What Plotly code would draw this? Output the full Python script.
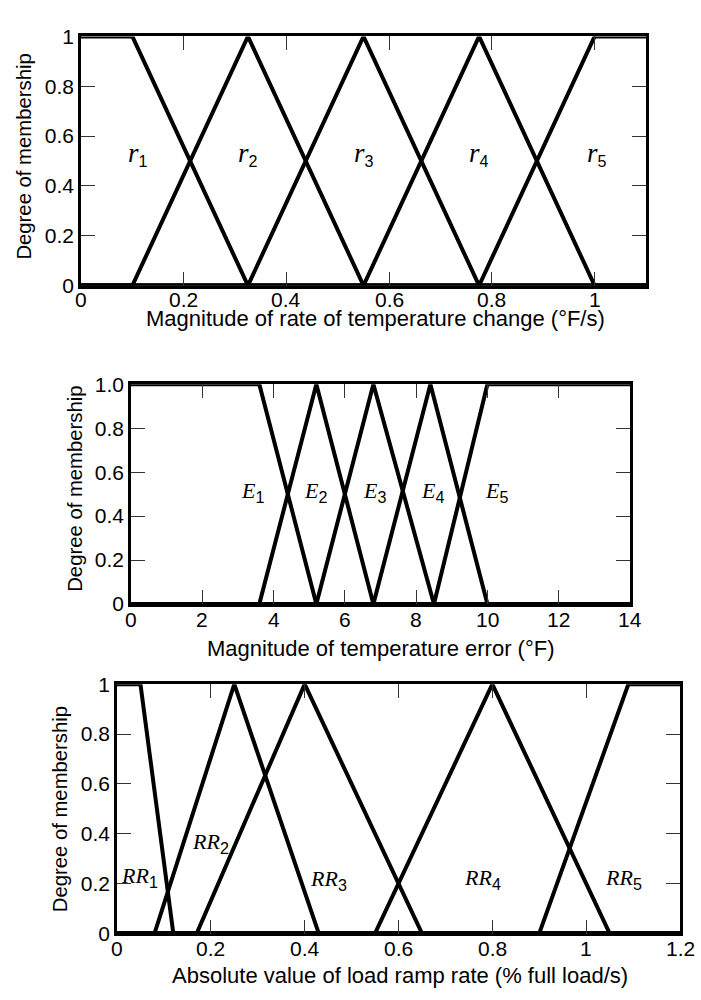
import plotly.graph_objects as go

W, H = 701, 1000

# ---------------- data ----------------
# Panel 1: magnitude of rate of temperature change (°F/s)
r_names = ["1", "2", "3", "4", "5"]
r1_x = [0, 0.1, 0.325, 1.1];          r1_y = [1, 1, 0, 0]
r2_x = [0, 0.1, 0.325, 0.55, 1.1];    r2_y = [0, 0, 1, 0, 0]
r3_x = [0, 0.325, 0.55, 0.775, 1.1];  r3_y = [0, 0, 1, 0, 0]
r4_x = [0, 0.55, 0.775, 1.0, 1.1];    r4_y = [0, 0, 1, 0, 0]
r5_x = [0, 0.775, 1.0, 1.1];          r5_y = [0, 0, 1, 1]
r_label_x = [0.11, 0.325, 0.55, 0.775, 1.005]
r_label_y = [0.53, 0.53, 0.53, 0.53, 0.53]
r_xticks = [0, 0.2, 0.4, 0.6, 0.8, 1]
r_xticktext = ["0", "0.2", "0.4", "0.6", "0.8", "1"]
r_yticks = [0, 0.2, 0.4, 0.6, 0.8, 1]
r_yticktext = ["0", "0.2", "0.4", "0.6", "0.8", "1"]

# Panel 2: magnitude of temperature error (°F)
e1_x = [0, 3.6, 5.2, 14];        e1_y = [1, 1, 0, 0]
e2_x = [0, 3.6, 5.2, 6.8, 14];   e2_y = [0, 0, 1, 0, 0]
e3_x = [0, 5.2, 6.8, 8.5, 14];   e3_y = [0, 0, 1, 0, 0]
e4_x = [0, 6.8, 8.4, 10.0, 14];  e4_y = [0, 0, 1, 0, 0]
e5_x = [0, 8.5, 10.0, 14];       e5_y = [0, 0, 1, 1]
e_label_x = [3.42, 5.19, 6.82, 8.45, 10.26]
e_label_y = [0.51, 0.51, 0.51, 0.51, 0.51]
e_xticks = [0, 2, 4, 6, 8, 10, 12, 14]
e_xticktext = ["0", "2", "4", "6", "8", "10", "12", "14"]
e_yticks = [0, 0.2, 0.4, 0.6, 0.8, 1.0]
e_yticktext = ["0", "0.2", "0.4", "0.6", "0.8", "1.0"]

# Panel 3: absolute value of load ramp rate (% full load/s)
rr1_x = [0, 0.05, 0.12, 1.2];         rr1_y = [1, 1, 0, 0]
rr2_x = [0, 0.08, 0.25, 0.43, 1.2];   rr2_y = [0, 0, 1, 0, 0]
rr3_x = [0, 0.17, 0.40, 0.65, 1.2];   rr3_y = [0, 0, 1, 0, 0]
rr4_x = [0, 0.55, 0.80, 1.05, 1.2];   rr4_y = [0, 0, 1, 0, 0]
rr5_x = [0, 0.90, 1.09, 1.2];         rr5_y = [0, 0, 1, 1]
rr_label_x = [0.049, 0.199, 0.45, 0.778, 1.08]
rr_label_y = [0.225, 0.362, 0.214, 0.22, 0.217]
rr_xticks = [0, 0.2, 0.4, 0.6, 0.8, 1, 1.2]
rr_xticktext = ["0", "0.2", "0.4", "0.6", "0.8", "1", "1.2"]
rr_yticks = [0, 0.2, 0.4, 0.6, 0.8, 1]
rr_yticktext = ["0", "0.2", "0.4", "0.6", "0.8", "1"]

x_titles = ["Magnitude of rate of temperature change (°F/s)",
            "Magnitude of temperature error (°F)",
            "Absolute value of load ramp rate (% full load/s)"]
y_title = "Degree of membership"

# ---------------- layout geometry (pixels) ----------------
panels = [
    dict(l=81, r=646, t=25, b=280, xr=[0, 1.1], ticky=294),
    dict(l=131, r=630, t=381, b=606, xr=[0, 14], ticky=622),
    dict(l=117, r=680, t=688, b=943, xr=[0, 1.2], ticky=959),
]

SANS = "Liberation Sans, Arial, Helvetica, sans-serif"
LW = 4

fig = go.Figure()

curves = [
    [(r1_x, r1_y), (r2_x, r2_y), (r3_x, r3_y), (r4_x, r4_y), (r5_x, r5_y)],
    [(e1_x, e1_y), (e2_x, e2_y), (e3_x, e3_y), (e4_x, e4_y), (e5_x, e5_y)],
    [(rr1_x, rr1_y), (rr2_x, rr2_y), (rr3_x, rr3_y), (rr4_x, rr4_y), (rr5_x, rr5_y)],
]
for i, cs in enumerate(curves):
    ax = "" if i == 0 else str(i + 1)
    for (xs, ys) in cs:
        fig.add_trace(go.Scatter(x=xs, y=ys, mode="lines",
                                 line=dict(color="black", width=LW),
                                 xaxis="x" + ax, yaxis="y" + ax,
                                 showlegend=False, hoverinfo="skip"))

xticks = [(r_xticks, r_xticktext), (e_xticks, e_xticktext), (rr_xticks, rr_xticktext)]
yticks = [(r_yticks, r_yticktext), (e_yticks, e_yticktext), (rr_yticks, rr_yticktext)]

layout = dict(width=W, height=H, margin=dict(l=0, r=0, t=0, b=0),
              paper_bgcolor="white", plot_bgcolor="white", showlegend=False,
              font=dict(family=SANS, size=21, color="black"))

for i, p in enumerate(panels):
    ax = "" if i == 0 else str(i + 1)
    common = dict(showline=True, linecolor="black", linewidth=2.5, mirror="ticks",
                  ticks="inside", ticklen=14, tickwidth=1, tickcolor="#333",
                  showgrid=False, zeroline=False,
                  tickfont=dict(family=SANS, size=21, color="black"))
    layout["xaxis" + ax] = dict(common, domain=[p["l"] / W, p["r"] / W], range=p["xr"],
                                anchor="y" + ax, tickmode="array", showticklabels=False,
                                tickvals=xticks[i][0])
    layout["yaxis" + ax] = dict(common, domain=[1 - p["b"] / H, 1 - p["t"] / H], range=[0, 1],
                                anchor="x" + ax, tickmode="array", ticklabelstandoff=0,
                                tickvals=yticks[i][0], ticktext=yticks[i][1])

fig.update_layout(**layout)

ann = []
# x tick labels (placed on the axis scale, just below each panel)
for i, p in enumerate(panels):
    ax = "x" if i == 0 else "x" + str(i + 1)
    for v, t in zip(*xticks[i]):
        ann.append(dict(x=v, y=1 - p["ticky"] / H, xref=ax, yref="paper", text=t,
                        showarrow=False, xanchor="center", yanchor="middle",
                        font=dict(family=SANS, size=21)))

# axis titles
x_title_pos = [(375, 314), (380.5, 651), (400, 986)]
y_title_pos = [(24, 148), (75, 488), (60, 816)]
for (px, py), t in zip(x_title_pos, x_titles):
    ann.append(dict(x=px / W, y=1 - py / H, xref="paper", yref="paper", text=t,
                    showarrow=False, xanchor="center", yanchor="middle",
                    font=dict(family=SANS, size=22)))
for (px, py) in y_title_pos:
    ann.append(dict(x=px / W, y=1 - py / H, xref="paper", yref="paper", text=y_title,
                    textangle=-90, showarrow=False, xanchor="center", yanchor="middle",
                    font=dict(family=SANS, size=20.3)))


def lab(letter, sub, size):
    return ('<span style="font-family:Liberation Serif, Times New Roman, serif;'
            'font-size:%dpx"><i>%s</i></span><sub>%s</sub>' % (size, letter, sub))


for i, (lx, ly) in enumerate(zip(r_label_x, r_label_y)):
    ann.append(dict(x=lx, y=ly, xref="x", yref="y", text=lab("r", r_names[i], 27),
                    showarrow=False, font=dict(family=SANS, size=23)))
for i, (lx, ly) in enumerate(zip(e_label_x, e_label_y)):
    ann.append(dict(x=lx, y=ly, xref="x2", yref="y2", text=lab("E", str(i + 1), 22),
                    showarrow=False, font=dict(family=SANS, size=23)))
for i, (lx, ly) in enumerate(zip(rr_label_x, rr_label_y)):
    ann.append(dict(x=lx, y=ly, xref="x3", yref="y3", text=lab("RR", str(i + 1), 22),
                    showarrow=False, font=dict(family=SANS, size=23)))

fig.update_layout(annotations=ann)
fig.write_html("out.html")
